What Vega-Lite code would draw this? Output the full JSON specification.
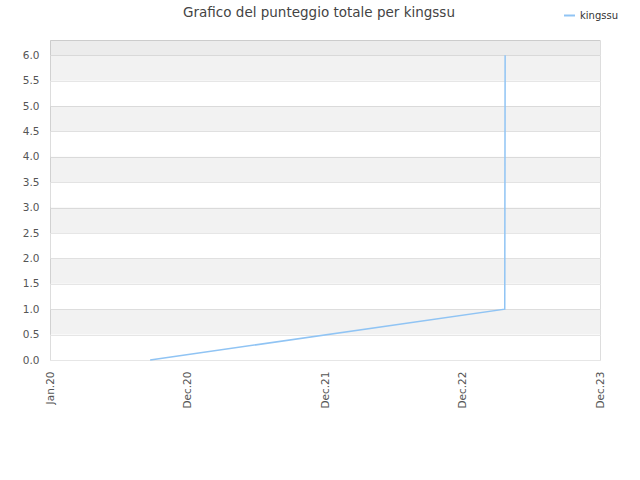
{
  "$schema": "https://vega.github.io/schema/vega-lite/v6.json",
  "autosize": "none",
  "width": 550,
  "height": 320,
  "padding": {"left": 50, "top": 40, "right": 40, "bottom": 120},
  "title": {
    "text": "Grafico del punteggio totale per kingssu",
    "anchor": "middle",
    "dx": -6,
    "offset": -10,
    "fontSize": 13.5,
    "fontWeight": "normal",
    "color": "#444444",
    "font": "DejaVu Sans"
  },
  "datasets": {
    "bands": [
      {"lo": 0.5, "hi": 1.0, "kind": "light"},
      {"lo": 1.5, "hi": 2.0, "kind": "light"},
      {"lo": 2.5, "hi": 3.0, "kind": "light"},
      {"lo": 3.5, "hi": 4.0, "kind": "light"},
      {"lo": 4.5, "hi": 5.0, "kind": "light"},
      {"lo": 5.5, "hi": 6.0, "kind": "light"},
      {"lo": 6.0, "hi": 6.3, "kind": "dark"}
    ],
    "scores": [
      {"date": "2020-08-23", "score": 0, "player": "kingssu"},
      {"date": "2023-03-23", "score": 1, "player": "kingssu"},
      {"date": "2023-03-24", "score": 6, "player": "kingssu"}
    ]
  },
  "layer": [
    {
      "data": {"name": "bands"},
      "mark": {"type": "rect", "fill": "black"},
      "encoding": {
        "y": {
          "field": "lo",
          "type": "quantitative",
          "title": null,
          "scale": {"domain": [0, 6.3], "nice": false},
          "axis": {
            "values": [0, 0.5, 1, 1.5, 2, 2.5, 3, 3.5, 4, 4.5, 5, 5.5, 6],
            "format": ".1f",
            "labelOverlap": false,
            "ticks": false,
            "domain": false,
            "grid": true,
            "gridColor": "#e6e6e6",
            "gridOpacity": 1,
            "labelPadding": 11,
            "labelFontSize": 10.5,
            "labelColor": "#555555",
            "labelFont": "DejaVu Sans"
          }
        },
        "y2": {"field": "hi"},
        "opacity": {
          "field": "kind",
          "type": "nominal",
          "legend": null,
          "scale": {"domain": ["light", "dark"], "range": [0.05, 0.075]}
        }
      }
    },
    {
      "data": {"name": "scores"},
      "mark": {"type": "line", "strokeWidth": 1.5, "interpolate": "linear"},
      "encoding": {
        "x": {
          "field": "date",
          "type": "temporal",
          "title": null,
          "scale": {
            "type": "utc",
            "domain": [
              {"year": 2019, "month": 12, "date": 1, "utc": true},
              {"year": 2023, "month": 12, "date": 1, "utc": true}
            ],
            "nice": false
          },
          "axis": {
            "values": [
              {"year": 2019, "month": 12, "date": 1, "utc": true},
              {"year": 2020, "month": 12, "date": 1, "utc": true},
              {"year": 2021, "month": 12, "date": 1, "utc": true},
              {"year": 2022, "month": 12, "date": 1, "utc": true},
              {"year": 2023, "month": 12, "date": 1, "utc": true}
            ],
            "labelExpr": "datum.index == 0 ? 'Jan.20' : 'Dec.' + utcFormat(datum.value, '%y')",
            "labelAngle": 270,
            "labelAlign": "right",
            "labelBaseline": "middle",
            "labelPadding": 11,
            "labelOverlap": false,
            "ticks": false,
            "grid": false,
            "domain": false,
            "labelFontSize": 10.5,
            "labelColor": "#555555",
            "labelFont": "DejaVu Sans"
          }
        },
        "y": {
          "field": "score",
          "type": "quantitative",
          "title": null,
          "scale": {"domain": [0, 6.3], "nice": false},
          "axis": {
            "values": [0, 0.5, 1, 1.5, 2, 2.5, 3, 3.5, 4, 4.5, 5, 5.5, 6],
            "format": ".1f",
            "labelOverlap": false,
            "ticks": false,
            "domain": false,
            "grid": true,
            "gridColor": "#e6e6e6",
            "gridOpacity": 1,
            "labelPadding": 11,
            "labelFontSize": 10.5,
            "labelColor": "#555555",
            "labelFont": "DejaVu Sans"
          }
        },
        "stroke": {
          "field": "player",
          "type": "nominal",
          "scale": {"range": ["#90c4f4"]},
          "legend": {
            "title": null,
            "orient": "none",
            "legendX": 513,
            "legendY": -31,
            "symbolType": "stroke",
            "symbolSize": 120,
            "symbolStrokeWidth": 2,
            "labelFontSize": 10,
            "labelColor": "#333333",
            "labelFont": "DejaVu Sans"
          }
        }
      }
    }
  ],
  "config": {
    "view": {"stroke": "#dddddd"},
    "background": "white"
  }
}
